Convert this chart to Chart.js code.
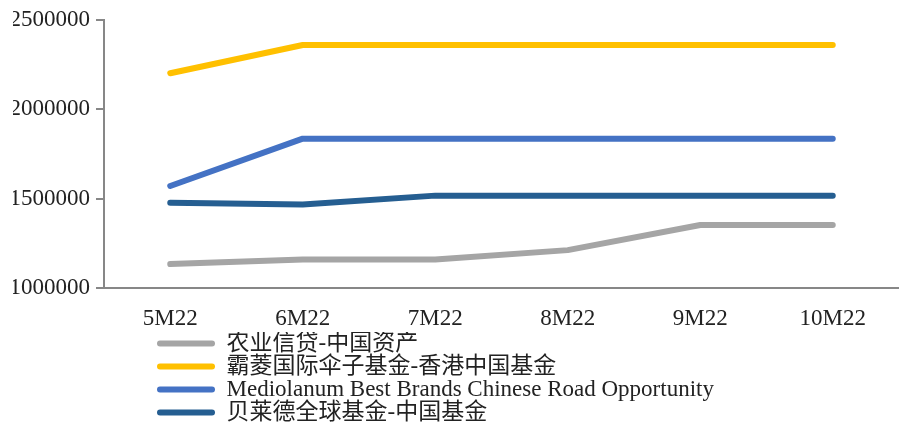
<!DOCTYPE html>
<html>
<head>
<meta charset="utf-8">
<script src="https://cdn.jsdelivr.net/npm/chart.js@4/dist/chart.umd.min.js"></script>
<style>
  html, body { margin: 0; padding: 0; background: #fff; }
  #wrap { width: 899px; height: 422px; position: relative; }
</style>
</head>
<body>
<div id="wrap"><canvas id="myChart"></canvas></div>
<script>
const months = ["5M22", "6M22", "7M22", "8M22", "9M22", "10M22"];
const yTickValues = [1000000, 1500000, 2000000, 2500000];

const seriesNames = [
  "农业信贷-中国资产",
  "霸菱国际伞子基金-香港中国基金",
  "Mediolanum Best Brands Chinese Road Opportunity",
  "贝莱德全球基金-中国基金"
];
const agriValues = [1134000, 1160000, 1160000, 1212000, 1353000, 1353000];
const baringsValues = [2202000, 2360000, 2360000, 2360000, 2360000, 2360000];
const mediolanumValues = [1571000, 1836000, 1836000, 1836000, 1836000, 1836000];
const blackrockValues = [1477000, 1468000, 1517000, 1517000, 1517000, 1517000];

const colors = ["#A5A5A5", "#FFC000", "#4472C4", "#255E91"];
const axisColor = "#878787";
const textColor = "#222222";
const serif = '"Liberation Serif", "Noto Sans CJK SC", serif';

function line(label, data, color) {
  return {
    label: label,
    data: data,
    borderColor: color,
    backgroundColor: color,
    borderWidth: 6,
    borderCapStyle: "round",
    borderJoinStyle: "round",
    pointRadius: 0,
    pointHoverRadius: 0,
    tension: 0,
    fill: false
  };
}

// legend rows: one item per row, left edge under the plot
const legendLayout = {
  id: "legendLayout",
  beforeLayout(chart) {
    const lg = chart.legend;
    if (lg && !lg._narrow) {
      const orig = lg.update.bind(lg);
      lg.update = (mw, mh, m) => {
        orig(Math.min(mw, 600), mh, m);
        lg.height = 92;
      };
      lg._narrow = true;
    }
  },
  afterLayout(chart) {
    const lg = chart.legend;
    lg.top += 2;
    lg.left = 157;
    lg.right = lg.left + 600;
  }
};

new Chart(document.getElementById("myChart").getContext("2d"), {
  type: "line",
  data: {
    labels: months,
    datasets: [
      line(seriesNames[0], agriValues, colors[0]),
      line(seriesNames[1], baringsValues, colors[1]),
      line(seriesNames[2], mediolanumValues, colors[2]),
      line(seriesNames[3], blackrockValues, colors[3])
    ]
  },
  options: {
    responsive: true,
    maintainAspectRatio: false,
    animation: false,
    layout: { padding: { left: 13, right: 0, top: 20, bottom: 0 } },
    scales: {
      x: {
        offset: true,
        grid: { display: false },
        border: { display: true, color: axisColor, width: 2 },
        afterFit: s => { s.height = 42; },
        ticks: {
          color: textColor,
          padding: 9,
          maxRotation: 0,
          font: { family: serif, size: 23, lineHeight: 1.2 }
        }
      },
      y: {
        min: 1000000,
        max: 2500000,
        afterBuildTicks: axis => { axis.ticks = yTickValues.map(v => ({ value: v })); },
        afterFit: s => { s.width = 91; },
        grid: {
          drawOnChartArea: false,
          drawTicks: true,
          tickLength: 8,
          color: axisColor,
          lineWidth: 2
        },
        border: { display: true, color: axisColor, width: 2 },
        ticks: {
          color: textColor,
          padding: 6,
          callback: v => String(v),
          font: { family: serif, size: 23 }
        }
      }
    },
    plugins: {
      tooltip: { enabled: false },
      legend: {
        position: "bottom",
        align: "start",
        labels: {
          color: textColor,
          boxWidth: 58,
          boxHeight: 6,
          padding: 0,
          useBorderRadius: true,
          borderRadius: 3,
          font: { family: serif, size: 23, lineHeight: 1 },
          generateLabels: chart =>
            Chart.defaults.plugins.legend.labels.generateLabels(chart).map(l =>
              Object.assign(l, { lineWidth: 0, fillStyle: l.strokeStyle }))
        }
      }
    }
  },
  plugins: [legendLayout]
});
</script>
</body>
</html>
